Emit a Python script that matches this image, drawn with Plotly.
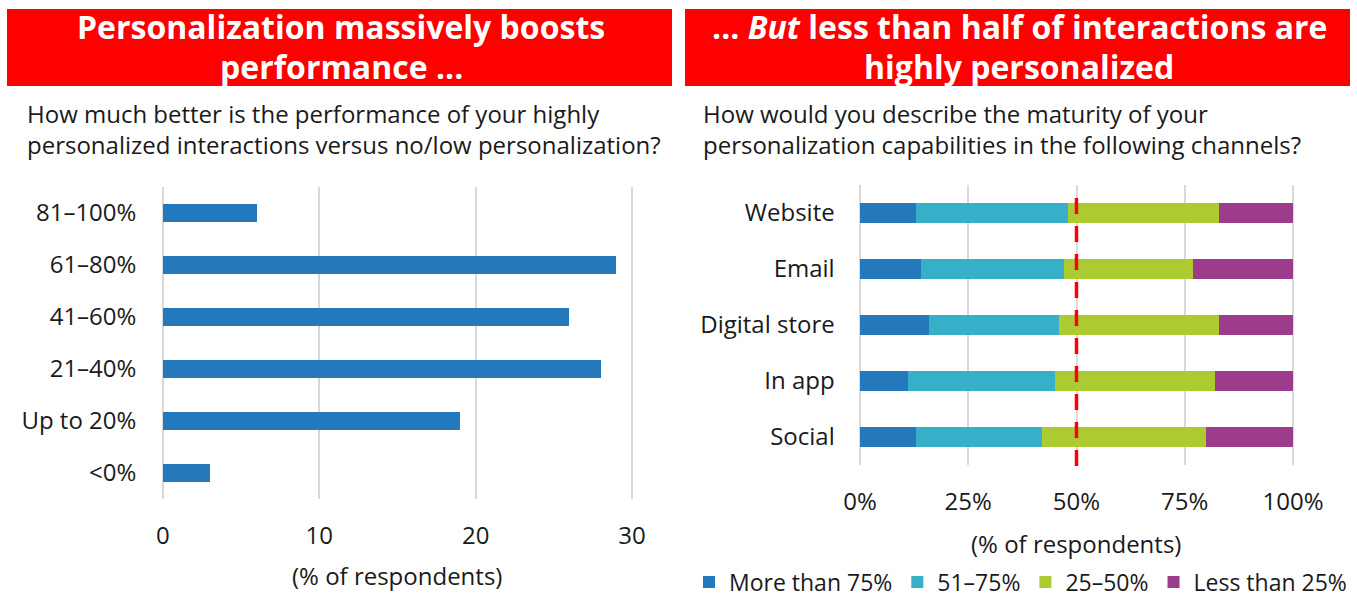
import plotly.graph_objects as go

W, H = 1357, 595


def px(x):
    return x / W


def py(y):
    return 1 - y / H


FONT = "Open Sans"
TXT = "#1a1a1a"
GRID = "#d9d9d9"

# ---------------- data ----------------
left_cats = ["81–100%", "61–80%", "41–60%", "21–40%", "Up to 20%", "<0%"]
left_vals = [6, 29, 26, 28, 19, 3]
left_ticks = [0, 10, 20, 30]

channels = ["Website", "Email", "Digital store", "In app", "Social"]
series_names = ["More than 75%", "51–75%", "25–50%", "Less than 25%"]
more_than_75 = [13, 14, 16, 11, 13]
from_51_to_75 = [35, 33, 30, 34, 29]
from_25_to_50 = [35, 30, 37, 37, 38]
less_than_25 = [17, 23, 17, 18, 20]
right_ticks = [0, 25, 50, 75, 100]
right_tick_text = ["0%", "25%", "50%", "75%", "100%"]
threshold = 50

BLUE = "#2479BD"
colors = ["#2479BD", "#36AFC9", "#ABCB31", "#9D3C8B"]

fig = go.Figure()

fig.add_trace(go.Bar(
    x=left_vals, y=left_cats, orientation="h", marker_color=BLUE,
    marker_line_width=0, width=0.35, xaxis="x", yaxis="y", showlegend=False,
))

for name, vals, col in zip(series_names,
                           [more_than_75, from_51_to_75, from_25_to_50, less_than_25],
                           colors):
    fig.add_trace(go.Bar(
        x=vals, y=channels, orientation="h", name=name, marker_color=col,
        marker_line_width=0, width=0.36, xaxis="x2", yaxis="y2",
    ))

axis_common = dict(
    showline=False, zeroline=False, ticks="", fixedrange=True, automargin=False,
    tickfont=dict(family=FONT, size=24, color=TXT),
)

fig.update_layout(
    width=W, height=H, autosize=False,
    margin=dict(l=0, r=0, t=0, b=0, autoexpand=False),
    paper_bgcolor="white", plot_bgcolor="white",
    barmode="stack",
    font=dict(family=FONT, color=TXT),
    xaxis=dict(domain=[px(161.4), px(633.6)], range=[-0.1, 30.1],
               tickvals=left_ticks, showgrid=True, gridcolor=GRID, gridwidth=1.5,
               anchor="y", ticklabelstandoff=20, **axis_common),
    yaxis=dict(domain=[py(499), py(187)], type="category",
               categoryorder="array", categoryarray=left_cats[::-1],
               range=[-0.5, 5.5], showgrid=False, anchor="x",
               ticklabelstandoff=24, **axis_common),
    xaxis2=dict(domain=[px(858.7), px(1294.3)], range=[-0.3, 100.3],
                tickvals=right_ticks, ticktext=right_tick_text,
                showgrid=True, gridcolor=GRID, gridwidth=1.5,
                anchor="y2", ticklabelstandoff=20, **axis_common),
    yaxis2=dict(domain=[py(465), py(185)], type="category",
                categoryorder="array", categoryarray=channels[::-1],
                range=[-0.5, 4.5], showgrid=False, anchor="x2",
                ticklabelstandoff=23, **axis_common),
    legend=dict(orientation="h", x=px(689), y=py(582), xanchor="left",
                yanchor="middle", font=dict(family=FONT, size=23, color=TXT),
                traceorder="normal", bgcolor="rgba(0,0,0,0)"),
    showlegend=True,
)

# red title boxes
for x0, x1 in [(7, 672), (685, 1350)]:
    fig.add_shape(type="rect", xref="paper", yref="paper",
                  x0=px(x0), x1=px(x1), y0=py(86), y1=py(9),
                  fillcolor="#FF0000", line_width=0, layer="below")

# threshold dashed line
fig.add_shape(type="line", xref="x2", yref="paper",
              x0=threshold, x1=threshold, y0=py(466), y1=py(189),
              line=dict(color="#FF0000", width=3.5, dash="16px,12px"))

TITLE_FONT = dict(family=FONT, size=32, color="white", weight="bold")
SUB_FONT = dict(family=FONT, size=24, color=TXT)
annots = [
    dict(x=px(341), y=py(27), text="Personalization massively boosts", font=TITLE_FONT, xanchor="center"),
    dict(x=px(341), y=py(66), text="performance ...", font=TITLE_FONT, xanchor="center"),
    dict(x=px(1019), y=py(27), text="... <i>But</i> less than half of interactions are", font=TITLE_FONT, xanchor="center"),
    dict(x=px(1019), y=py(66), text="highly personalized", font=TITLE_FONT, xanchor="center"),
    dict(x=px(25), y=py(128.5),
         text="How much better is the performance of your highly<br>personalized interactions versus no/low personalization?",
         font=SUB_FONT, xanchor="left", align="left"),
    dict(x=px(701), y=py(128.5),
         text="How would you describe the maturity of your<br>personalization capabilities in the following channels?",
         font=SUB_FONT, xanchor="left", align="left"),
    dict(x=px(397), y=py(575), text="(% of respondents)", font=SUB_FONT, xanchor="center"),
    dict(x=px(1076), y=py(543), text="(% of respondents)", font=SUB_FONT, xanchor="center"),
]
for a in annots:
    fig.add_annotation(xref="paper", yref="paper", showarrow=False, yanchor="middle", **a)

fig.write_html("out.html")
